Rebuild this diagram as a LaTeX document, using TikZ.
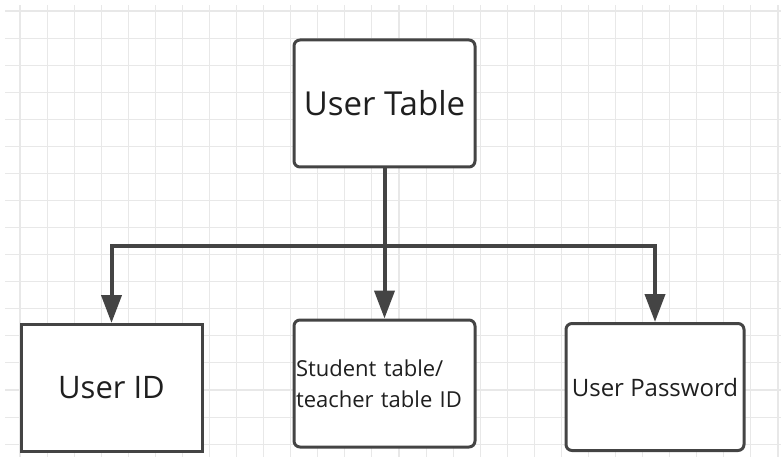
\documentclass[tikz,border=0pt]{standalone}
\usepackage{fontspec}
\setmainfont{Open Sans}
\usetikzlibrary{arrows.meta}
\definecolor{gridgray}{RGB}{232,232,232}
\definecolor{edgegray}{RGB}{68,68,68}
\tikzset{
  box/.style={draw=edgegray, line width=3pt, fill=white, rounded corners=6pt,
    minimum width=181pt, minimum height=127pt, inner sep=2pt, text=black!88},
  link/.style={draw=edgegray, line width=4pt,
    >={Triangle[width=20pt,length=28pt]}},
}
\begin{document}
\begin{tikzpicture}[x=1pt,y=-1pt]
\useasboundingbox (0,0) rectangle (781,457);
% Grid
\foreach \k in {0,...,28}
    \draw[gridgray, line width=1.1pt] ({20+27.07*\k},5) -- ({20+27.07*\k},457);
\foreach \k in {0,...,16}
    \draw[gridgray, line width=1.1pt] (5,{11+27.07*\k}) -- (781,{11+27.07*\k});

% Boxes
\node[box, font=\fontsize{33}{38}\selectfont] (utab) at (384.5,103.5) {User Table};
\node[box, sharp corners, font=\fontsize{31}{36}\selectfont] (uid) at (111.5,388) {User ID};
\node[box, text width=177pt, align=left, font=\fontsize{22}{31}\selectfont] (sid) at (384.5,383.5) {Student table/\\teacher table ID};
\node[box, minimum width=178pt, font=\fontsize{24}{30}\selectfont] (upwd) at (655,387) {User Password};

% Links
\coordinate (fork) at (384.5,246);
\draw[link,->] (utab.south) -- (sid.north);
\draw[link,<->] (uid.north) |- (fork) -| (upwd.north);
\end{tikzpicture}
\end{document}
